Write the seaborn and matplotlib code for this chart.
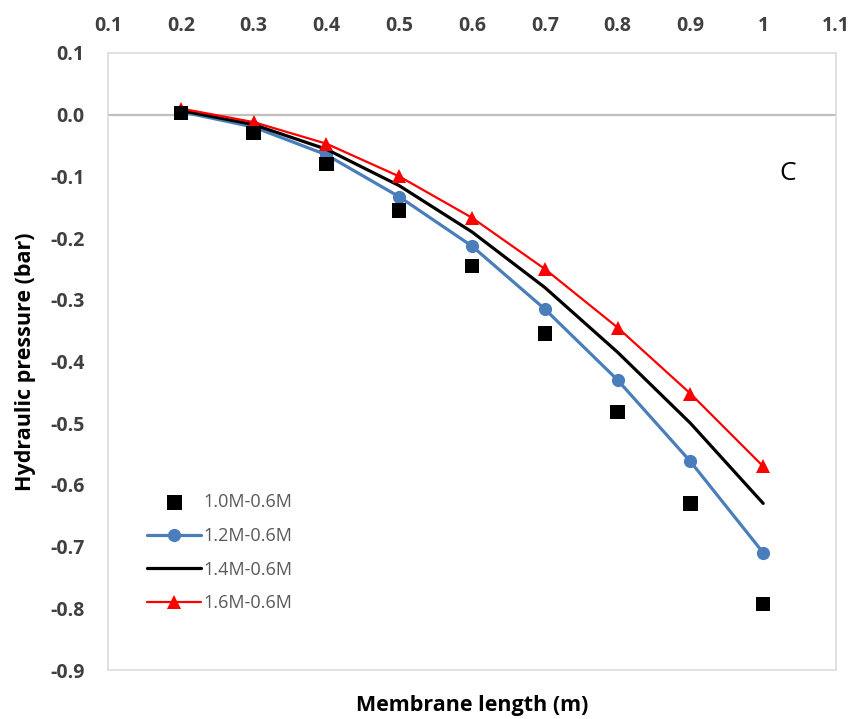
import matplotlib
matplotlib.use("Agg")
import matplotlib.pyplot as plt
import seaborn as sns
import numpy as np
import pandas as pd

# ---- data ----
membrane_length = [0.2, 0.3, 0.4, 0.5, 0.6, 0.7, 0.8, 0.9, 1.0]
p_10 = [0.003, -0.030, -0.080, -0.155, -0.245, -0.355, -0.482, -0.630, -0.793]
p_12 = [0.005, -0.020, -0.065, -0.133, -0.213, -0.315, -0.430, -0.562, -0.710]
p_14 = [0.007, -0.016, -0.056, -0.115, -0.190, -0.280, -0.385, -0.500, -0.630]
p_16 = [0.010, -0.012, -0.047, -0.100, -0.167, -0.250, -0.345, -0.452, -0.570]
series_labels = ["1.0M-0.6M", "1.2M-0.6M", "1.4M-0.6M", "1.6M-0.6M"]
x_ticks = [0.1, 0.2, 0.3, 0.4, 0.5, 0.6, 0.7, 0.8, 0.9, 1.0, 1.1]
x_tick_labels = ["0.1", "0.2", "0.3", "0.4", "0.5", "0.6", "0.7", "0.8", "0.9", "1", "1.1"]
y_ticks = [0.1, 0.0, -0.1, -0.2, -0.3, -0.4, -0.5, -0.6, -0.7, -0.8, -0.9]

sns.set_style("white")
plt.rcParams["font.family"] = ["Open Sans", "DejaVu Sans"]

fig = plt.figure(figsize=(8.56, 7.19), dpi=100)
ax = fig.add_axes([108 / 856, 1 - 670 / 719, 728 / 856, 617 / 719])

blue = "#4a7ebb"
red = "#ff0000"

sns.scatterplot(x=membrane_length, y=p_10, marker="s", s=110, color="black",
                edgecolor="none", label=series_labels[0], ax=ax, zorder=5)
sns.lineplot(x=membrane_length, y=p_12, color=blue, lw=2.3, marker="o", markersize=9.5,
             markeredgewidth=0, label=series_labels[1], ax=ax, zorder=3)
sns.lineplot(x=membrane_length, y=p_14, color="black", lw=2.3,
             label=series_labels[2], ax=ax, zorder=3)
sns.lineplot(x=membrane_length, y=p_16, color=red, lw=1.6, marker="^", markersize=9.5,
             markeredgewidth=0, label=series_labels[3], ax=ax, zorder=4)

ax.axhline(0, color="#bfbfbf", lw=1.6, zorder=1)

ax.set_xlim(0.1, 1.1)
ax.set_ylim(-0.9, 0.1)
ax.xaxis.tick_top()
ax.set_xticks(x_ticks)
ax.set_xticklabels(x_tick_labels)
ax.set_yticks(y_ticks)
ax.set_yticklabels([f"{v:.1f}" for v in y_ticks])
ax.tick_params(axis="both", length=0, labelsize=14, labelcolor="#404040")
ax.tick_params(axis="x", pad=12)
ax.tick_params(axis="y", pad=17)
for lab in ax.get_xticklabels() + ax.get_yticklabels():
    lab.set_fontweight("bold")

for sp in ax.spines.values():
    sp.set_color("#d9d9d9")
    sp.set_linewidth(1.1)
    sp.set_visible(True)

ax.xaxis.set_label_position("bottom")
ax.set_xlabel("Membrane length (m)", fontsize=15.5, fontweight="bold", color="black", labelpad=18)
ax.set_ylabel("Hydraulic pressure (bar)", fontsize=15.5, fontweight="bold", color="black", labelpad=10)

ax.text(1.034, -0.095, "C", fontsize=19, color="black", ha="center", va="center")

handles, labels = ax.get_legend_handles_labels()
order = [labels.index(l) for l in series_labels]
leg = ax.legend([handles[i] for i in order], [labels[i] for i in order],
                loc="center left", bbox_to_anchor=(0.054, 0.19), frameon=False,
                fontsize=13, labelcolor="#595959", handlelength=3.0, handletextpad=0.1,
                labelspacing=0.86, borderpad=0, borderaxespad=0)

fig.savefig("out.png", dpi=100, facecolor="white")
